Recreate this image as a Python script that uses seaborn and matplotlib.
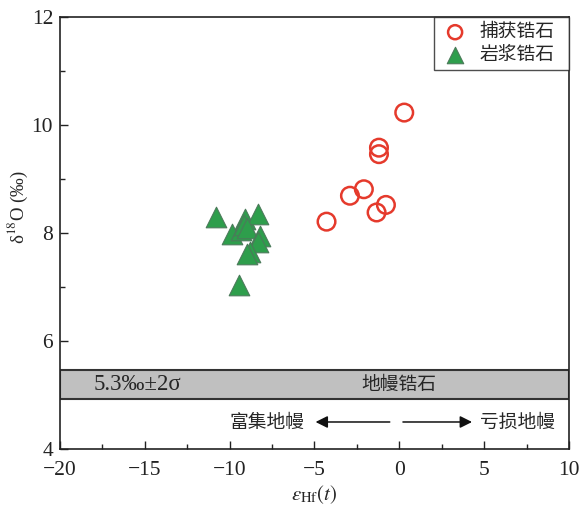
import matplotlib
matplotlib.use("Agg")
import matplotlib.pyplot as plt
import seaborn as sns
import pandas as pd
from matplotlib.ticker import MultipleLocator

# data
inherited_hf = [0.29, -1.2, -1.2, -2.09, -2.91, -0.79, -1.34, -4.29]
inherited_o = [10.23, 9.58, 9.46, 8.81, 8.69, 8.52, 8.38, 8.21]
magmatic_hf = [-10.83, -9.1, -8.31, -9.88, -9.35, -9.15, -8.95, -8.21, -8.31, -8.8, -9.0, -9.45]
magmatic_o = [8.29, 8.26, 8.35, 7.98, 8.05, 8.15, 8.1, 7.95, 7.83, 7.64, 7.61, 7.03]
legend_labels = ["捕获锆石", "岩浆锆石"]
band_low, band_high = 4.92, 5.46

sns.set_theme(style="white")
plt.rcParams['font.family'] = ['Liberation Serif', 'Noto Sans CJK SC', 'DejaVu Sans']
plt.rcParams['mathtext.fontset'] = 'stix'

fig = plt.figure(figsize=(5.81, 5.09), dpi=100)
ax = fig.add_axes([0.1033, 0.1179, 0.876, 0.8487])

df1 = pd.DataFrame({"hf": inherited_hf, "o": inherited_o})
df2 = pd.DataFrame({"hf": magmatic_hf, "o": magmatic_o})

ax.axhspan(band_low, band_high, facecolor='#c0c0c0', edgecolor='#333333', linewidth=1.5, zorder=1)

sns.scatterplot(data=df2, x="hf", y="o", marker='^', s=220, color='#2e9e4c',
                edgecolor='#4b7a5a', linewidth=0.8, ax=ax, zorder=3, label=legend_labels[1])
sns.scatterplot(data=df1, x="hf", y="o", marker='o', s=160, facecolor='none',
                edgecolor='#e53a2c', linewidth=1.8, ax=ax, zorder=4, label=legend_labels[0])

ax.set_xlim(-20, 10)
ax.set_ylim(4, 12)
ax.xaxis.set_major_locator(MultipleLocator(5))
ax.xaxis.set_minor_locator(MultipleLocator(2.5))
ax.yaxis.set_major_locator(MultipleLocator(2))
ax.yaxis.set_minor_locator(MultipleLocator(1))
ax.tick_params(which='both', direction='in', left=True, bottom=True, top=False, right=False,
               colors='#222222', labelsize=15.5, width=1.0)
ax.tick_params(which='major', length=6)
ax.tick_params(axis='x', which='major', pad=9)
ax.tick_params(axis='y', which='major', pad=5)
ax.tick_params(which='minor', length=3.5)
ax.set_xticks([-20, -15, -10, -5, 0, 5, 10])
ax.set_xticklabels(['\u221220', '\u221215', '\u221210', '\u22125', '0', '5', '10'])
for sp in ax.spines.values():
    sp.set_color('#222222')
    sp.set_linewidth(1.2)

ax.set_xlabel(r'$\varepsilon_{\mathrm{Hf}}(t)$', fontsize=15, labelpad=2)
ax.set_ylabel('δ$^{18}$O (‰)', fontsize=13.5)
ax.yaxis.set_label_coords(-0.058, 0.56)

cjk = ['Noto Sans CJK SC', 'DejaVu Sans']
ax.text(-18.0, 5.19, '5.3‰±2σ', fontsize=16.5, va='center', ha='left', family=['Liberation Serif', 'DejaVu Sans'], zorder=5)
ax.text(0.0, 5.19, '地幔锆石', fontsize=13.5, va='center', ha='center', family=cjk, zorder=5)
ax.text(-5.6, 4.5, '富集地幔', fontsize=13.5, va='center', ha='right', family=cjk)
ax.text(4.75, 4.5, '亏损地幔', fontsize=13.5, va='center', ha='left', family=cjk)
ax.annotate('', xy=(-5.1, 4.5), xytext=(-0.4, 4.5),
            arrowprops=dict(arrowstyle='-|>', color='#111111', lw=1.1, mutation_scale=18))
ax.annotate('', xy=(4.45, 4.5), xytext=(0.05, 4.5),
            arrowprops=dict(arrowstyle='-|>', color='#111111', lw=1.1, mutation_scale=18))

h, l = ax.get_legend_handles_labels()
order = [l.index(legend_labels[0]), l.index(legend_labels[1])]
leg = ax.legend([h[i] for i in order], [l[i] for i in order], loc='upper left',
                bbox_to_anchor=(0.735, 0.0, 0.265, 1.0), mode='expand',
                prop={'family': 'Noto Sans CJK SC', 'size': 13.5}, frameon=True, fancybox=False,
                edgecolor='#222222', handletextpad=0.4, borderpad=0.22, labelspacing=0.12,
                borderaxespad=0.0, handlelength=1.8, markerscale=0.8)
leg.get_frame().set_linewidth(1.0)

fig.savefig('out.png', dpi=100)
